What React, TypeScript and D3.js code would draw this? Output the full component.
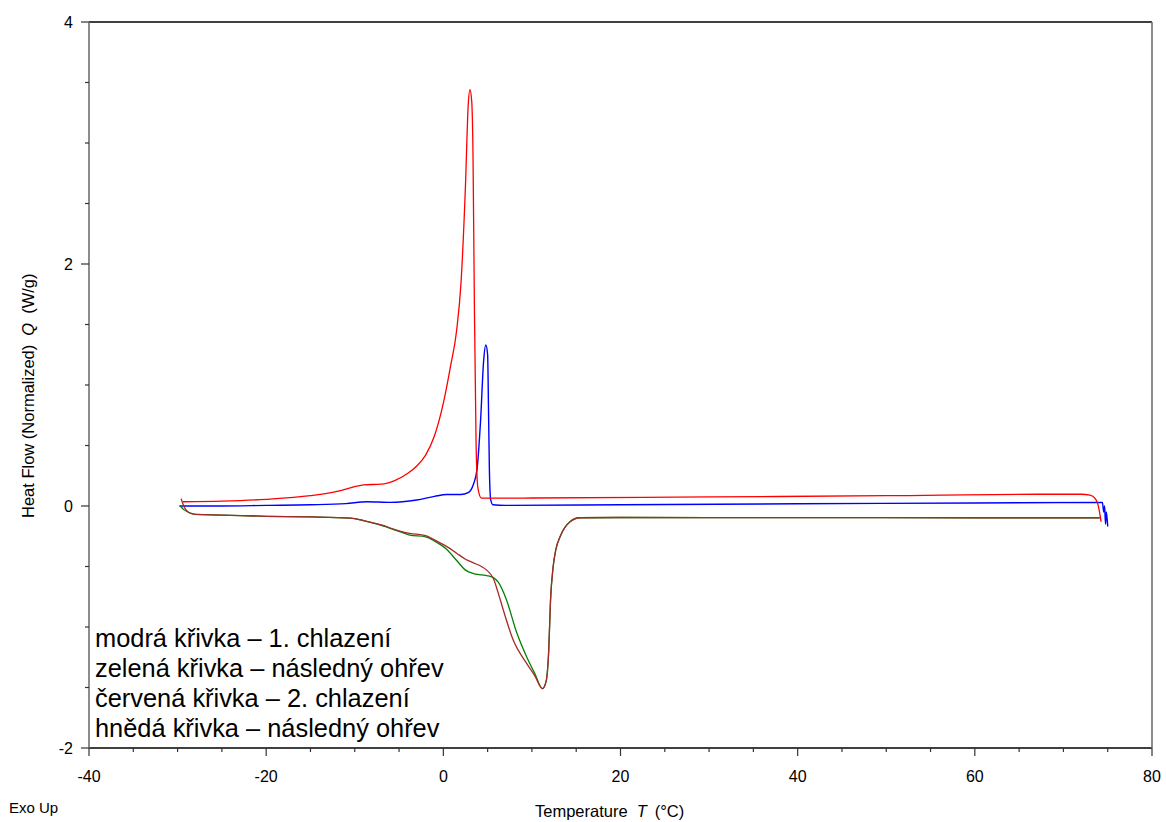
import React from "react";
import * as d3 from "d3";

type Pt = [number, number];

// DSC traces: temperature T (°C), normalized heat flow Q (W/g)
const blueCooling1: Pt[] = [
  [-29.8, 0.0], [-25, 0.0], [-20, 0.005], [-15, 0.01], [-11, 0.02], [-8.6, 0.035],
  [-6, 0.03], [-3, 0.05], [-1, 0.08], [0.4, 0.095], [2.0, 0.095], [2.8, 0.11],
  [3.4, 0.18], [3.8, 0.3], [4.2, 0.7], [4.55, 1.2], [4.8, 1.33], [5.0, 1.25],
  [5.1, 0.8], [5.2, 0.3], [5.35, 0.05], [5.6, 0.01], [7, 0.005], [20, 0.01],
  [40, 0.018], [60, 0.025], [74.4, 0.03], [74.55, -0.05], [74.65, 0.0],
  [74.75, -0.15], [74.85, -0.05], [75.0, -0.17],
];

const greenHeating1: Pt[] = [
  [-29.7, 0.0], [-29.3, -0.03], [-28.5, -0.06], [-28, -0.07], [-25, -0.075],
  [-20, -0.085], [-15, -0.09], [-10.5, -0.1], [-9, -0.12], [-7, -0.16], [-5, -0.21],
  [-3.8, -0.24], [-2, -0.255], [-1, -0.29], [0.4, -0.36], [1.5, -0.45], [2.5, -0.53],
  [3.5, -0.56], [4.9, -0.575], [5.6, -0.59], [6.2, -0.63], [7.1, -0.77], [8.3, -1.05],
  [9.4, -1.245], [10.3, -1.38], [11.2, -1.51], [11.6, -1.45], [11.9, -1.19],
  [12.1, -0.78], [12.4, -0.5], [12.7, -0.36], [13.2, -0.25], [14.3, -0.13],
  [15.4, -0.097], [20, -0.095], [40, -0.096], [60, -0.097], [74.1, -0.097],
];

const redCooling2: Pt[] = [
  [-29.4, 0.035], [-25, 0.04], [-20, 0.055], [-15, 0.085], [-12, 0.12], [-10, 0.16],
  [-9, 0.175], [-7, 0.18], [-5.5, 0.21], [-4, 0.27], [-3, 0.33], [-2, 0.42],
  [-1, 0.58], [0, 0.85], [0.8, 1.15], [1.5, 1.45], [2.0, 1.85], [2.5, 2.65],
  [2.8, 3.3], [3.0, 3.44], [3.2, 3.35], [3.35, 2.9], [3.5, 1.7], [3.7, 0.5],
  [3.9, 0.15], [4.3, 0.065], [10, 0.066], [30, 0.075], [50, 0.085], [67, 0.097],
  [72, 0.097], [73, 0.09], [73.6, 0.06], [74.0, -0.02], [74.25, -0.13],
];

const brownHeating2: Pt[] = [
  [-29.6, 0.06], [-29.3, 0.0], [-28.8, -0.05], [-28, -0.07], [-25, -0.075],
  [-20, -0.085], [-15, -0.09], [-10.5, -0.1], [-9, -0.12], [-7, -0.157], [-5, -0.205],
  [-3.8, -0.226], [-2, -0.245], [-1, -0.28], [0.4, -0.336], [1.5, -0.39], [2.5, -0.44],
  [3.4, -0.47], [4.3, -0.5], [4.9, -0.53], [5.65, -0.6], [6.2, -0.72], [6.77, -0.86],
  [7.9, -1.11], [9.4, -1.3], [10.3, -1.4], [11.2, -1.51], [11.6, -1.45], [11.9, -1.19],
  [12.1, -0.78], [12.4, -0.5], [12.7, -0.36], [13.2, -0.25], [14.3, -0.13],
  [15.4, -0.097], [20, -0.095], [40, -0.096], [60, -0.097], [74.1, -0.097],
];

const xMajorTicks = [-40, -20, 0, 20, 40, 60, 80];
const yMajorTicks = [-2, 0, 2, 4];

const legendLines = [
  "modrá křivka – 1. chlazení",
  "zelená křivka – následný ohřev",
  "červená křivka – 2. chlazení",
  "hnědá křivka – následný ohřev",
];

const W = 1166;
const H = 822;
const plot = { left: 89, right: 1152, top: 22, bottom: 748 };
const font = "'Liberation Sans', Arial, sans-serif";

export default function App() {
  const x = d3.scaleLinear().domain([-40, 80]).range([plot.left, plot.right]);
  const y = d3.scaleLinear().domain([-2, 4]).range([plot.bottom, plot.top]);

  const line = d3
    .line<Pt>()
    .x((d) => x(d[0]))
    .y((d) => y(d[1]))
    .curve(d3.curveMonotoneX);

  const xMinor = d3.range(-40, 80.01, 5).filter((v) => v % 20 !== 0);
  const yMinor = d3.range(-2, 4.01, 0.5).filter((v) => Math.abs(v % 2) > 1e-9);

  const series: { data: Pt[]; color: string; w: number }[] = [
    { data: blueCooling1, color: "#0000ff", w: 1.4 },
    { data: redCooling2, color: "#ff0000", w: 1.3 },
    { data: greenHeating1, color: "#008000", w: 1.3 },
    { data: brownHeating2, color: "#a52a2a", w: 1.3 },
  ];

  return (
    <svg
      width={W}
      height={H}
      style={{ position: "absolute", left: 0, top: 0, background: "#fff" }}
      fontFamily={font}
    >
      <rect x={0} y={0} width={W} height={H} fill="#fff" />
      <defs>
        <clipPath id="plotClip">
          <rect x={plot.left} y={plot.top} width={plot.right - plot.left} height={plot.bottom - plot.top} />
        </clipPath>
      </defs>

      {/* frame */}
      <line x1={plot.left} x2={plot.right} y1={plot.top} y2={plot.top} stroke="#000" strokeWidth={1.6} />
      <line x1={plot.left} x2={plot.right} y1={plot.bottom} y2={plot.bottom} stroke="#000" strokeWidth={1.6} />
      <line x1={plot.left} x2={plot.left} y1={plot.top} y2={plot.bottom} stroke="#707070" strokeWidth={1.6} />
      <line x1={plot.right} x2={plot.right} y1={plot.top} y2={plot.bottom} stroke="#707070" strokeWidth={1.6} />

      {/* x ticks */}
      {xMajorTicks.map((t) => (
        <g key={"xm" + t}>
          <line x1={x(t)} x2={x(t)} y1={plot.bottom} y2={plot.bottom + 8} stroke="#333" strokeWidth={1.2} />
          <text x={x(t)} y={782} textAnchor="middle" fontSize={16} fill="#000">
            {t}
          </text>
        </g>
      ))}
      {xMinor.map((t) => (
        <line key={"xn" + t} x1={x(t)} x2={x(t)} y1={plot.bottom} y2={plot.bottom + 4} stroke="#333" strokeWidth={1.2} />
      ))}

      {/* y ticks */}
      {yMajorTicks.map((t) => (
        <g key={"ym" + t}>
          <line x1={plot.left - 8} x2={plot.left} y1={y(t)} y2={y(t)} stroke="#333" strokeWidth={1.2} />
          <text x={73} y={y(t)} dy="0.35em" textAnchor="end" fontSize={16} fill="#000">
            {t}
          </text>
        </g>
      ))}
      {yMinor.map((t) => (
        <line key={"yn" + t} x1={plot.left - 4} x2={plot.left} y1={y(t)} y2={y(t)} stroke="#333" strokeWidth={1.2} />
      ))}

      {/* curves */}
      <g clipPath="url(#plotClip)">
        {series.map((s, i) => (
          <path key={i} d={line(s.data) ?? ""} fill="none" stroke={s.color} strokeWidth={s.w} strokeLinejoin="round" />
        ))}
      </g>

      {/* curve descriptions */}
      {legendLines.map((s, i) => (
        <text key={i} x={95} y={647 + i * 30} fontSize={25.4} fill="#000">
          {s}
        </text>
      ))}

      {/* axis titles */}
      <text x={535} y={817} fontSize={16.5} fill="#000">
        <tspan>Temperature</tspan>
        <tspan dx={9} fontStyle="italic">T</tspan>
        <tspan dx={8}>(°C)</tspan>
      </text>
      <text transform={`translate(34, 518) rotate(-90)`} fontSize={16.5} fill="#000">
        <tspan>Heat Flow (Normalized)</tspan>
        <tspan dx={9} fontStyle="italic">Q</tspan>
        <tspan dx={9}>(W/g)</tspan>
      </text>
      <text x={9} y={813} fontSize={15} fill="#000">
        Exo Up
      </text>
    </svg>
  );
}
